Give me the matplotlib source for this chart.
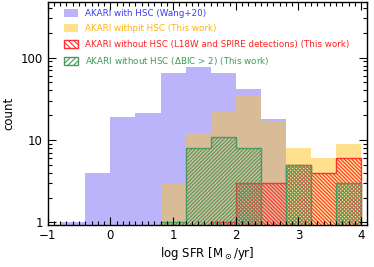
import numpy as np
from matplotlib import pyplot as plt
from matplotlib.patches import Patch
from matplotlib.ticker import MultipleLocator, LogLocator, NullFormatter, FixedLocator, FixedFormatter

# bin edges in log SFR
edges = np.array([-0.8, -0.4, 0.0, 0.4, 0.8, 1.2, 1.6, 2.0, 2.4, 2.8, 3.2, 3.6, 4.0])

# counts per bin
wang = np.array([1, 4, 19, 21, 65, 76, 65, 42, 18, 0, 0, 0])
with_hsc = np.array([0, 0, 0, 0, 3, 12, 22, 35, 17, 8, 6, 9])
l18w = np.array([0, 0, 0, 0, 0, 0, 1, 3, 3, 5, 4, 6])
dbic = np.array([0, 0, 0, 0, 1, 8, 11, 8, 0, 5, 0, 3])

labels = ['AKARI with HSC (Wang+20)',
          'AKARI withpit HSC (This work)',
          'AKARI without HSC (L18W and SPIRE detections) (This work)',
          r'AKARI without HSC ($\Delta$BIC > 2) (This work)']

c_purple = '#bcb4fa'
c_yellow = '#ffe08c'
c_tan = '#d8bc98'
c_red = '#ff3030'
c_green = '#4a9a60'
txt_colors = ['#3c3cf0', '#ffb400', '#ff2020', '#3c9a5a']

plt.rcParams['hatch.linewidth'] = 0.8

fig = plt.figure(figsize=(3.74, 2.67), dpi=100)
ax = fig.add_axes([0.1275, 0.159, 0.855, 0.835])
ax.set_yscale('log')

w = np.diff(edges)
ax.bar(edges[:-1], wang, width=w, align='edge', color=c_purple, linewidth=0)
ax.bar(edges[:-1], with_hsc, width=w, align='edge', color=c_yellow, linewidth=0)
ax.bar(edges[:-1], np.minimum(wang, with_hsc), width=w, align='edge', color=c_tan, linewidth=0)

# hatched histograms, empty bins pushed below the axis
base = 0.5
ax.stairs(np.where(l18w > 0, l18w, base), edges, baseline=base, fill=True,
          facecolor='none', edgecolor=c_red, hatch='\\' * 9, linewidth=1.0)
ax.stairs(np.where(dbic > 0, dbic, base), edges, baseline=base, fill=True,
          facecolor='none', edgecolor=c_green, hatch='/' * 9, linewidth=1.0)

ax.set_xlim(-1.0, 4.1)
ax.set_ylim(0.94, 480)

ax.xaxis.set_major_locator(MultipleLocator(1))
ax.xaxis.set_minor_locator(MultipleLocator(0.1))
ax.yaxis.set_major_locator(FixedLocator([1, 10, 100]))
ax.yaxis.set_major_formatter(FixedFormatter(['1', '10', '100']))
ax.yaxis.set_minor_locator(LogLocator(base=10, subs=np.arange(2, 10)))
ax.yaxis.set_minor_formatter(NullFormatter())
ax.tick_params(which='both', direction='in', top=True, right=True, labelsize=8.5, width=0.8)
ax.tick_params(which='major', length=6)
ax.tick_params(which='minor', length=3)
for s in ax.spines.values():
    s.set_linewidth(1.0)

ax.set_xlabel(r'log SFR [M$_\odot$/yr]', fontsize=8.5, labelpad=2)
ax.set_ylabel('count', fontsize=8.5, labelpad=4)

handles = [Patch(facecolor=c_purple, edgecolor='none'),
           Patch(facecolor=c_yellow, edgecolor='none'),
           Patch(facecolor='none', edgecolor=c_red, hatch='\\' * 6),
           Patch(facecolor='none', edgecolor=c_green, hatch='/' * 6)]
leg = ax.legend(handles, labels, loc='upper left', frameon=False, fontsize=6.3,
                handlelength=1.6, handleheight=1.0, handletextpad=0.8,
                labelspacing=0.75, borderaxespad=0.4, bbox_to_anchor=(0.03, 1.0))
for t, c in zip(leg.get_texts(), txt_colors):
    t.set_color(c)

fig.savefig('out.png', dpi=100)
